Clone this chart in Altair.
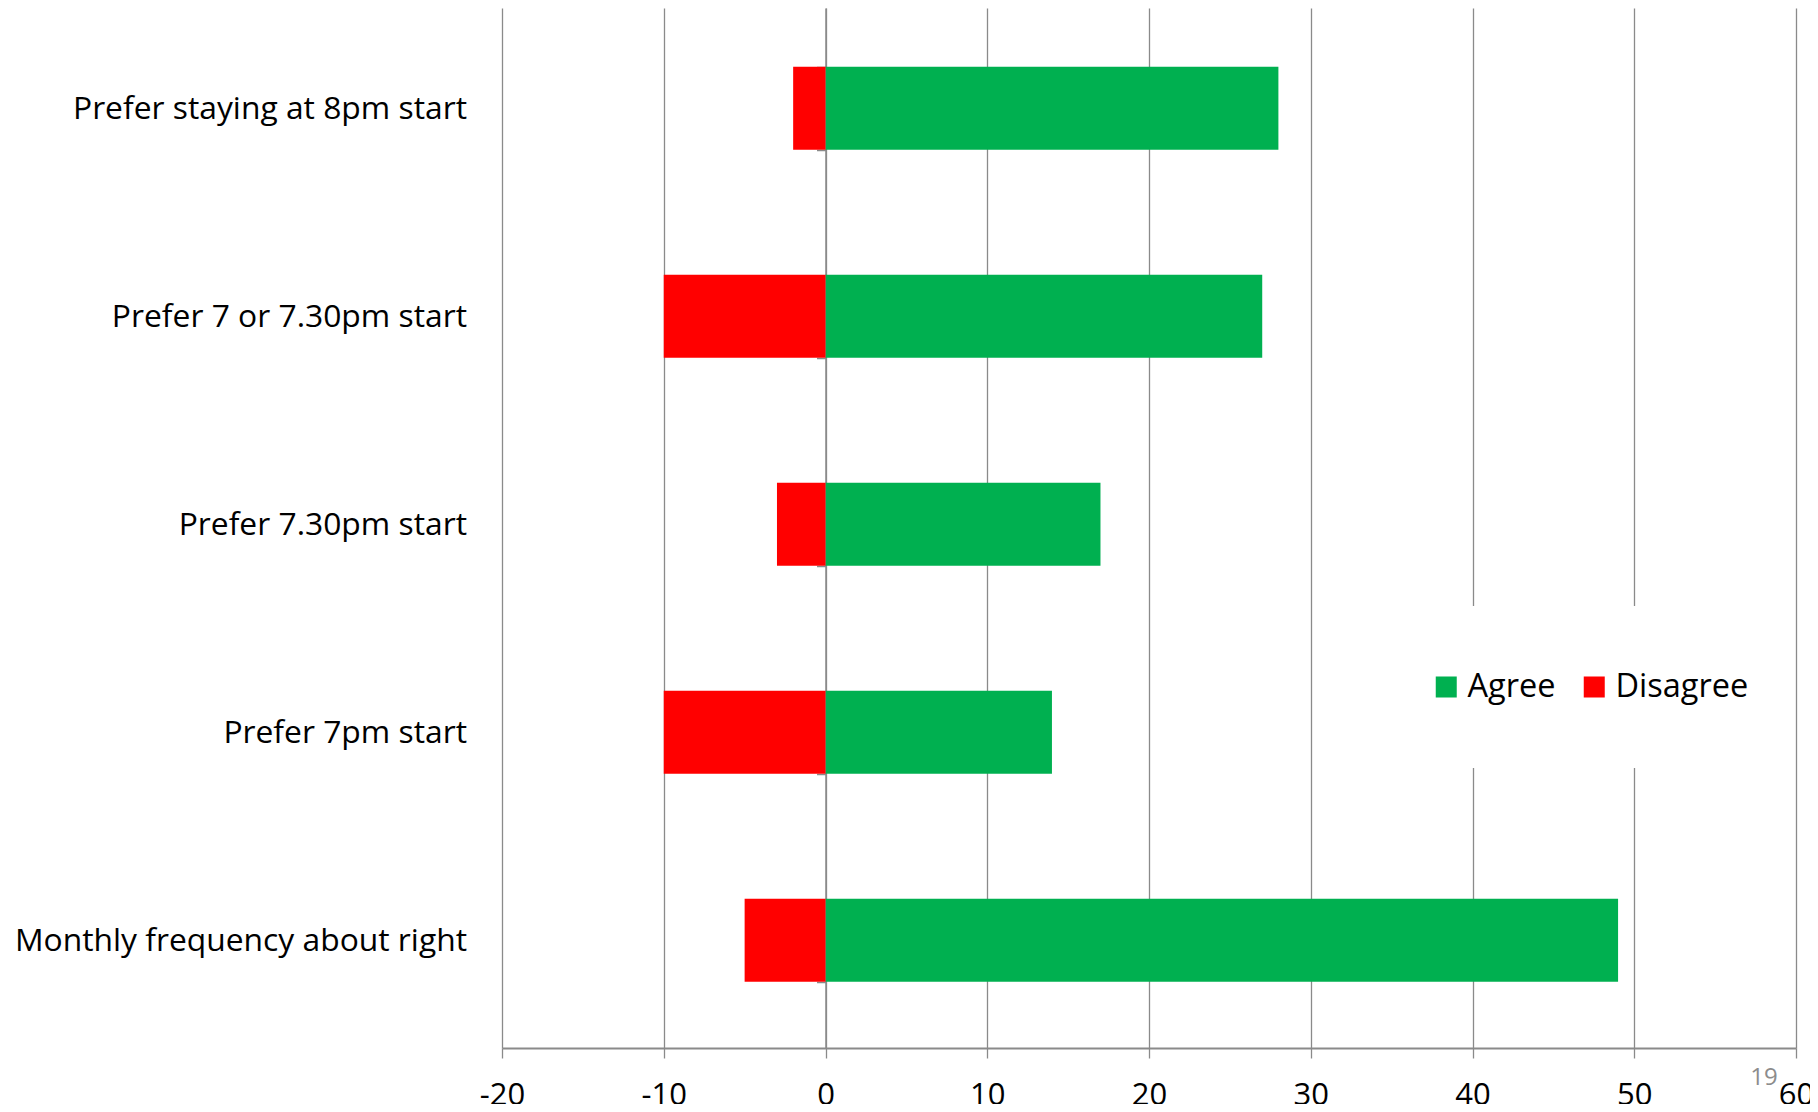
import altair as alt
import pandas as pd

categories = [
    "Prefer staying at 8pm start",
    "Prefer 7 or 7.30pm start",
    "Prefer 7.30pm start",
    "Prefer 7pm start",
    "Monthly frequency about right",
]
agree = [28, 27, 17, 14, 49]
disagree = [-2, -10, -3, -10, -5]
series = ["Agree", "Disagree"]
colors = ["#00B050", "#FF0000"]
x_ticks = [-20, -10, 0, 10, 20, 30, 40, 50, 60]
page_number = "19"

rows = []
for c, a, d in zip(categories, agree, disagree):
    rows.append({"category": c, "series": "Agree", "value": a})
    rows.append({"category": c, "series": "Disagree", "value": d})
df = pd.DataFrame(rows)

W, H = 1294, 1040
FONT = "Open Sans"
GRID = "#8a8a8a"

bars = alt.Chart(df).mark_bar().encode(
    x=alt.X(
        "value:Q",
        stack=None,
        scale=alt.Scale(domain=[-20, 60], nice=False),
        axis=alt.Axis(
            values=x_ticks,
            title=None,
            grid=True,
            gridColor=GRID,
            gridWidth=1.3,
            domainColor=GRID,
            domainWidth=2,
            tickColor=GRID,
            tickWidth=1.3,
            tickSize=10,
            labelFont=FONT,
            labelFontSize=31,
            labelColor="#000000",
            labelPadding=22,
            labelFlush=False,
            labelExpr="'' + datum.value",
        ),
    ),
    y=alt.Y(
        "category:N",
        sort=categories,
        scale=alt.Scale(paddingInner=0.6, paddingOuter=0.3, align=0.47),
        axis=alt.Axis(
            title=None,
            grid=False,
            offset=-323.5,
            tickBand="extent",
            domainColor=GRID,
            domainWidth=1.5,
            tickColor=GRID,
            tickWidth=1.5,
            tickSize=9,
            labelFont=FONT,
            labelFontSize=31.8,
            labelColor="#000000",
            labelPadding=350,
            labelLimit=600,
        ),
    ),
    color=alt.Color(
        "series:N",
        scale=alt.Scale(domain=series, range=colors),
        legend=alt.Legend(
            title=None,
            orient="none",
            legendX=888,
            legendY=598,
            direction="horizontal",
            fillColor="white",
            padding=40,
            clipHeight=82,
            symbolType="square",
            symbolSize=441,
            symbolStrokeWidth=0,
            labelFont=FONT,
            labelFontSize=32.5,
            labelColor="#000000",
            labelOffset=5,
            columnPadding=22,
        ),
    ),
)

pn = alt.Chart(pd.DataFrame({"t": [page_number]})).mark_text(
    font=FONT, fontSize=24, color="#8c8c8c", align="center", baseline="middle"
).encode(text="t:N", x=alt.value(1262), y=alt.value(1070))

chart = alt.layer(bars, pn).properties(
    width=W,
    height=H,
    autosize=alt.AutoSizeParams(type="none"),
    padding={"left": 494, "top": 0, "right": 14, "bottom": 56},
).configure_view(stroke=None)

chart.save("out.html", embed_options={"renderer": "svg", "actions": False})
